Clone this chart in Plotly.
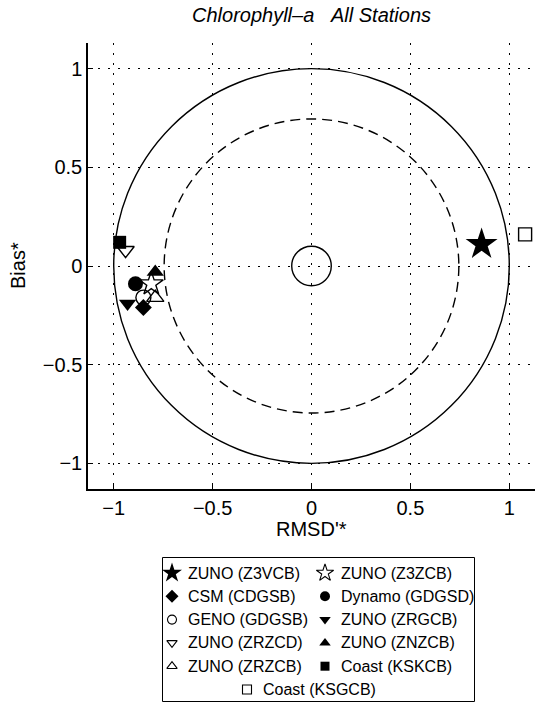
import plotly.graph_objects as go

# ---- data: normalised target-diagram scores per model configuration ----
names = [
    "ZUNO (Z3VCB)", "ZUNO (Z3ZCB)",
    "CSM (CDGSB)", "Dynamo (GDGSD)",
    "GENO (GDGSB)", "ZUNO (ZRGCB)",
    "ZUNO (ZRZCD)", "ZUNO (ZNZCB)",
    "ZUNO (ZRZCB)", "Coast (KSKCB)",
    "Coast (KSGCB)",
]
rmsd_star = [0.86, -0.81, -0.85, -0.89, -0.85, -0.93, -0.94, -0.79, -0.79, -0.97, 1.08]
bias_star = [0.11, -0.09, -0.21, -0.09, -0.16, -0.19, 0.08, -0.03, -0.16, 0.12, 0.16]

tick_vals = [-1, -0.5, 0, 0.5, 1]
tick_text = ["\u22121", "\u22120.5", "0", "0.5", "1"]

# reference circles: unit circle, dashed inner circle, small centre circle
circle_radii = [1.0, 0.745, 0.1]
circle_dash = ["solid", "10px,6px", "solid"]

# ---- marker styles ----
symbols = [
    "star", "star-open",
    "diamond", "circle",
    "circle-open", "triangle-down",
    "triangle-down-open", "triangle-up",
    "triangle-up-open", "square",
    "square-open",
]
plot_sizes = [24, 18, 13, 15, 15, 15, 15, 15, 15, 13, 13]
legend_sizes = [15, 13, 10, 10, 9, 10, 9, 10, 9, 9, 9]

W, H = 535, 703
FONT = "Liberation Sans, Arial, Helvetica, sans-serif"

# plot area in page pixels
PL, PR, PT, PB = 88, 535, 43, 489
# legend box in page pixels
LL, LR, LT, LB = 162, 475, 557, 702

fig = go.Figure()

for i, name in enumerate(names):
    is_open = symbols[i].endswith("-open")
    fig.add_trace(go.Scatter(
        x=[rmsd_star[i]], y=[bias_star[i]],
        mode="markers",
        name=name,
        marker=dict(
            symbol=symbols[i],
            size=plot_sizes[i],
            color="black",
            line=dict(color="black", width=1.4 if is_open else 0),
        ),
        showlegend=False,
        xaxis="x", yaxis="y",
    ))

# ---- hand-laid legend (two columns, last entry centred) ----
row_h = 23.3
first_row = 573
annotations = []
for i, name in enumerate(names):
    row, col = divmod(i, 2)
    if i == len(names) - 1 and len(names) % 2 == 1:
        sym_x = 247
    else:
        sym_x = 172 if col == 0 else 325
    y = first_row + row * row_h
    is_open = symbols[i].endswith("-open")
    fig.add_trace(go.Scatter(
        x=[sym_x], y=[y], mode="markers",
        marker=dict(symbol=symbols[i], size=legend_sizes[i], color="black",
                    line=dict(color="black", width=1.1 if is_open else 0)),
        showlegend=False, hoverinfo="skip",
        xaxis="x2", yaxis="y2",
    ))
    annotations.append(dict(
        x=sym_x + 14, y=y, xref="x2", yref="y2",
        text=name, showarrow=False, xanchor="left", yanchor="middle",
        font=dict(family=FONT, size=16, color="black"),
    ))

shapes = []
for r, d in zip(circle_radii, circle_dash):
    shapes.append(dict(
        type="circle", xref="x", yref="y",
        x0=-r, y0=-r, x1=r, y1=r,
        line=dict(color="black", width=1.4, dash=d),
        layer="between",
    ))
shapes.append(dict(
    type="rect", xref="x2", yref="y2",
    x0=LL + 0.5, x1=LR - 0.5, y0=LT + 0.5, y1=LB - 0.5,
    line=dict(color="black", width=1), fillcolor="rgba(0,0,0,0)",
))

annotations += [
    dict(text="<i>Chlorophyll\u2013a\u00a0\u00a0\u00a0All Stations</i>",
         x=311.7 / W, y=1 - 15 / H, xref="paper", yref="paper",
         showarrow=False, xanchor="center", yanchor="middle",
         font=dict(family=FONT, size=20, color="black")),
    dict(text="Bias*", x=18 / W, y=1 - 266 / H, xref="paper", yref="paper",
         showarrow=False, textangle=-90, xanchor="center", yanchor="middle",
         font=dict(family=FONT, size=20, color="black")),
    dict(text="RMSD'*", x=311.7 / W, y=1 - 529 / H, xref="paper", yref="paper",
         showarrow=False, xanchor="center", yanchor="middle",
         font=dict(family=FONT, size=20, color="black")),
]

axis_common = dict(
    range=[-1.13, 1.13],
    tickmode="array", tickvals=tick_vals, ticktext=tick_text,
    ticks="inside", ticklen=5, tickwidth=1, tickcolor="black",
    showline=True, linecolor="black", linewidth=1.5, mirror=False,
    showgrid=True, gridcolor="black", gridwidth=1.2, griddash="2px,8px",
    zeroline=False,
    tickfont=dict(family=FONT, size=20, color="black"),
    automargin=False, fixedrange=True,
)

fig.update_layout(
    width=W, height=H,
    margin=dict(l=0, r=0, t=0, b=0),
    paper_bgcolor="white", plot_bgcolor="white",
    xaxis=dict(domain=[PL / W, PR / W], anchor="y", **axis_common),
    yaxis=dict(domain=[1 - PB / H, 1 - PT / H], anchor="x", **axis_common),
    xaxis2=dict(domain=[LL / W, LR / W], range=[LL, LR], anchor="y2",
                visible=False, fixedrange=True),
    yaxis2=dict(domain=[1 - LB / H, 1 - LT / H], range=[LB, LT], anchor="x2",
                visible=False, fixedrange=True),
    shapes=shapes,
    annotations=annotations,
    showlegend=False,
)

fig.write_html("out.html")
